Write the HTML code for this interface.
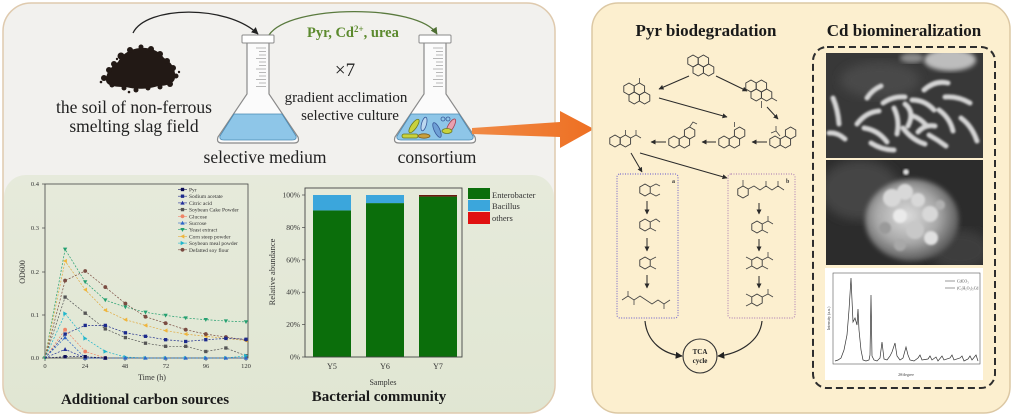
<!DOCTYPE html>
<html><head><meta charset="utf-8"><style>
html,body{margin:0;padding:0;background:#fff;width:1024px;height:416px;overflow:hidden}
svg{display:block}
text{font-family:"Liberation Serif",serif}
</style></head><body>
<svg width="1024" height="416" viewBox="0 0 1024 416" xmlns="http://www.w3.org/2000/svg">
<defs>
<clipPath id="lp"><rect x="3" y="3" width="552" height="410" rx="28"/></clipPath>
<clipPath id="s1"><rect x="826" y="53" width="157" height="105"/></clipPath>
<clipPath id="s2"><rect x="826" y="160" width="157" height="105"/></clipPath>
<filter id="bl"><feGaussianBlur stdDeviation="1.1"/></filter>
<filter id="bl2"><feGaussianBlur stdDeviation="2.5"/></filter>
<filter id="bl3"><feGaussianBlur stdDeviation="5"/></filter>
<marker id="ah" viewBox="0 0 10 10" refX="9" refY="5" markerWidth="5" markerHeight="5" orient="auto" markerUnits="userSpaceOnUse"><path d="M0,0 L10,5 L0,10 z" fill="#2a2a2a"/></marker>
<marker id="ahb" viewBox="0 0 10 10" refX="9" refY="5" markerWidth="7" markerHeight="7" orient="auto" markerUnits="userSpaceOnUse"><path d="M0,0 L10,5 L0,10 z" fill="#222"/></marker>
<marker id="ahg" viewBox="0 0 10 10" refX="9" refY="5" markerWidth="7" markerHeight="7" orient="auto" markerUnits="userSpaceOnUse"><path d="M0,0 L10,5 L0,10 z" fill="#4f6f33"/></marker>
<marker id="mYe" viewBox="-3 -3 6 6" markerWidth="5" markerHeight="5" markerUnits="userSpaceOnUse"><path d="M-2.6,-2 L2.6,-2 L0,2.6z" fill="#24a070"/></marker>
<marker id="mCo" viewBox="-3 -3 6 6" markerWidth="5" markerHeight="5" markerUnits="userSpaceOnUse"><path d="M2.2,-2.6 L2.2,2.6 L-2.6,0z" fill="#f0b63c"/></marker>
<marker id="mDe" viewBox="-3 -3 6 6" markerWidth="5" markerHeight="5" markerUnits="userSpaceOnUse"><circle r="2.3" fill="#7a4c42"/></marker>
<marker id="mSc" viewBox="-3 -3 6 6" markerWidth="5" markerHeight="5" markerUnits="userSpaceOnUse"><rect x="-2" y="-2" width="4" height="4" fill="#555"/></marker>
<marker id="mSm" viewBox="-3 -3 6 6" markerWidth="5" markerHeight="5" markerUnits="userSpaceOnUse"><path d="M-2.2,-2.6 L-2.2,2.6 L2.6,0z" fill="#1fb6cc"/></marker>
<marker id="mNa" viewBox="-3 -3 6 6" markerWidth="5" markerHeight="5" markerUnits="userSpaceOnUse"><rect x="-2" y="-2" width="4" height="4" fill="#1c2a8c"/></marker>
<marker id="mGl" viewBox="-3 -3 6 6" markerWidth="5" markerHeight="5" markerUnits="userSpaceOnUse"><circle r="2.3" fill="#ef8466"/></marker>
<marker id="mCi" viewBox="-3 -3 6 6" markerWidth="5" markerHeight="5" markerUnits="userSpaceOnUse"><path d="M-2.6,2 L2.6,2 L0,-2.6z" fill="#23309a"/></marker>
<marker id="mSu" viewBox="-3 -3 6 6" markerWidth="5" markerHeight="5" markerUnits="userSpaceOnUse"><path d="M-2.6,2 L2.6,2 L0,-2.6z" fill="#2f66c8"/></marker>
<marker id="mPy" viewBox="-3 -3 6 6" markerWidth="5" markerHeight="5" markerUnits="userSpaceOnUse"><rect x="-2" y="-2" width="4" height="4" fill="#0c0c55"/></marker>
<g id="h"><polygon points="0,-6 5.2,-3 5.2,3 0,6 -5.2,3 -5.2,-3" fill="none" stroke="#3a3a3a" stroke-width="0.9"/></g>
<linearGradient id="gg" x1="0" y1="0" x2="0" y2="1"><stop offset="0" stop-color="#e6eadb"/><stop offset="1" stop-color="#e0e6d2"/></linearGradient>
<radialGradient id="blob" cx="0.45" cy="0.45" r="0.55"><stop offset="0" stop-color="#dcdcdc"/><stop offset="0.6" stop-color="#a8a8a8"/><stop offset="1" stop-color="#5a5a5a"/></radialGradient>
<linearGradient id="or" x1="0" y1="0" x2="1" y2="0"><stop offset="0" stop-color="#f08a45"/><stop offset="1" stop-color="#ee6f22"/></linearGradient>
</defs>

<!-- LEFT PANEL -->
<rect x="3" y="3" width="552" height="410" rx="28" fill="#f2f1ee"/>
<rect x="4" y="175" width="550" height="250" rx="22" fill="url(#gg)" clip-path="url(#lp)"/>
<rect x="3" y="3" width="552" height="410" rx="28" fill="none" stroke="#dfcaae" stroke-width="1.5"/>

<!-- soil -->
<g fill="#221915">
<path d="M106,80 C106,72 112,66 118,62 C122,54 130,49 140,48 C152,47 160,52 164,58 C172,62 176,70 175,78 C174,84 166,86 158,86 C150,89 135,90 126,87 C115,87 106,86 106,80 Z"/>
<circle cx="104" cy="78" r="3"/><circle cx="109" cy="70" r="3"/><circle cx="114" cy="64" r="3"/><circle cx="121" cy="56" r="3.5"/><circle cx="130" cy="50" r="3"/><circle cx="141" cy="47" r="2.5"/><circle cx="151" cy="49" r="3"/><circle cx="160" cy="54" r="3"/><circle cx="167" cy="61" r="3"/><circle cx="173" cy="68" r="3"/><circle cx="176" cy="76" r="2.5"/><circle cx="170" cy="84" r="3"/><circle cx="160" cy="87" r="2.5"/><circle cx="148" cy="88" r="2.5"/><circle cx="136" cy="90" r="2.5"/><circle cx="124" cy="88" r="2.5"/><circle cx="112" cy="85" r="2.5"/>
<circle cx="129" cy="92" r="1.3"/><circle cx="101" cy="82" r="1.3"/><circle cx="179" cy="72" r="1.2"/><circle cx="117" cy="59" r="1.2"/>
</g>
<path d="M133,33 C146,6 226,4 258,34" fill="none" stroke="#222" stroke-width="1.3" marker-end="url(#ahb)"/>
<path d="M269,35 C290,4 418,4 437,34" fill="none" stroke="#5a7a3e" stroke-width="1.3" marker-end="url(#ahg)"/>

<!-- flask 1 -->
<path d="M247,43 L247,94 L218,137 Q216,143 222,143 L294,143 Q300,143 298,137 L269,94 L269,43" fill="#fbfbfb" stroke="#8a8a8a" stroke-width="1.2"/>
<path d="M234,114 L282,114 L296,136 Q297,140 292,140 L224,140 Q219,140 220,136 Z" fill="#8ec6e8" stroke="#4b8ab4" stroke-width="0.8"/>
<rect x="242" y="35" width="32" height="8" rx="1" fill="#fff" stroke="#8a8a8a" stroke-width="1"/>
<g stroke="#a8a8a8" stroke-width="0.8">
<line x1="256" y1="48" x2="266" y2="48"/><line x1="259" y1="51.5" x2="266" y2="51.5"/><line x1="259" y1="55" x2="266" y2="55"/><line x1="256" y1="58.5" x2="266" y2="58.5"/><line x1="259" y1="62" x2="266" y2="62"/><line x1="259" y1="65.5" x2="266" y2="65.5"/><line x1="256" y1="69" x2="266" y2="69"/><line x1="259" y1="72.5" x2="266" y2="72.5"/><line x1="259" y1="76" x2="266" y2="76"/><line x1="256" y1="79.5" x2="266" y2="79.5"/><line x1="259" y1="83" x2="266" y2="83"/><line x1="256" y1="86.5" x2="266" y2="86.5"/>
</g>

<!-- flask 2 -->
<path d="M424,43 L424,94 L395,137 Q393,143 399,143 L471,143 Q477,143 475,137 L446,94 L446,43" fill="#fbfbfb" stroke="#8a8a8a" stroke-width="1.2"/>
<path d="M411,114 L459,114 L473,136 Q474,140 469,140 L401,140 Q396,140 397,136 Z" fill="#8ec6e8" stroke="#4b8ab4" stroke-width="0.8"/>
<rect x="419" y="35" width="32" height="8" rx="1" fill="#fff" stroke="#8a8a8a" stroke-width="1"/>
<g stroke="#a8a8a8" stroke-width="0.8">
<line x1="433" y1="48" x2="443" y2="48"/><line x1="436" y1="51.5" x2="443" y2="51.5"/><line x1="436" y1="55" x2="443" y2="55"/><line x1="433" y1="58.5" x2="443" y2="58.5"/><line x1="436" y1="62" x2="443" y2="62"/><line x1="436" y1="65.5" x2="443" y2="65.5"/><line x1="433" y1="69" x2="443" y2="69"/><line x1="436" y1="72.5" x2="443" y2="72.5"/><line x1="436" y1="76" x2="443" y2="76"/><line x1="433" y1="79.5" x2="443" y2="79.5"/><line x1="436" y1="83" x2="443" y2="83"/><line x1="433" y1="86.5" x2="443" y2="86.5"/>
</g>
<g stroke-width="0.8">
<ellipse cx="414" cy="126" rx="2.8" ry="8" transform="rotate(35 414 126)" fill="#c9d23c" stroke="#6a7a20"/>
<ellipse cx="424" cy="124" rx="2.5" ry="7" transform="rotate(15 424 124)" fill="#bcd8f0" stroke="#3a5a9a"/>
<ellipse cx="437" cy="130" rx="2.8" ry="8" transform="rotate(-25 437 130)" fill="#6ea0d6" stroke="#3a5a9a"/>
<ellipse cx="451" cy="126" rx="2.8" ry="8" transform="rotate(30 451 126)" fill="#e9a0b0" stroke="#a04050"/>
<ellipse cx="447" cy="131" rx="5" ry="2.5" fill="#c9d23c" stroke="#6a7a20"/>
<circle cx="443" cy="119" r="2" fill="none" stroke="#3a5a9a"/><circle cx="448" cy="119" r="2" fill="none" stroke="#3a5a9a"/>
<rect x="402" y="134" width="16" height="4" rx="2" fill="#c9d23c" stroke="#6a7a20"/>
<ellipse cx="424" cy="136" rx="6" ry="2.2" fill="#c9a03c" stroke="#806020"/>
</g>

<!-- orange arrow -->
<polygon points="472,128 560,122 560,111 594,129 560,148 560,137 472,134" fill="url(#or)"/>

<!-- top texts -->
<g fill="#222" font-size="17.5" text-anchor="middle">
<text x="134" y="113">the soil of non-ferrous</text>
<text x="134" y="132">smelting slag field</text>
<text x="265" y="163">selective medium</text>
<text x="437" y="163">consortium</text>
<text x="345" y="76" font-size="19">×7</text>
<text x="346" y="102" font-size="15">gradient acclimation</text>
<text x="350" y="120" font-size="15">selective culture</text>
</g>
<text x="307" y="37" font-size="14.5" font-weight="bold" fill="#5c8a2e">Pyr, Cd<tspan font-size="9" dy="-5">2+</tspan><tspan dy="5">, urea</tspan></text>

<!-- LINE CHART -->
<rect x="45" y="184" width="203" height="174" fill="none" stroke="#444" stroke-width="0.8"/>
<g stroke="#444" stroke-width="0.7">
<line x1="42" y1="184" x2="45" y2="184"/><line x1="42" y1="228" x2="45" y2="228"/><line x1="42" y1="272" x2="45" y2="272"/><line x1="42" y1="315" x2="45" y2="315"/><line x1="42" y1="358" x2="45" y2="358"/>
<line x1="45" y1="358" x2="45" y2="361"/><line x1="85" y1="358" x2="85" y2="361"/><line x1="125" y1="358" x2="125" y2="361"/><line x1="166" y1="358" x2="166" y2="361"/><line x1="206" y1="358" x2="206" y2="361"/><line x1="246" y1="358" x2="246" y2="361"/>
</g>
<g font-size="6.5" fill="#333" text-anchor="end">
<text x="39" y="186">0.4</text><text x="39" y="230">0.3</text><text x="39" y="274">0.2</text><text x="39" y="317">0.1</text><text x="39" y="360">0.0</text>
</g>
<g font-size="6.5" fill="#333" text-anchor="middle">
<text x="45" y="368">0</text><text x="85" y="368">24</text><text x="125" y="368">48</text><text x="166" y="368">72</text><text x="206" y="368">96</text><text x="246" y="368">120</text>
<text x="152" y="380" font-size="8">Time (h)</text>
<text x="0" y="0" font-size="8" transform="translate(25 272) rotate(-90)">OD600</text>
</g>
<g fill="none" stroke-width="0.7" stroke-dasharray="2,1.5">
<polyline stroke="#24a070" marker-mid="url(#mYe)" marker-end="url(#mYe)" marker-start="url(#mYe)" points="45,358 65.1,249.3 85.2,281.9 105.3,300.1 125.4,307.1 145.5,312.3 165.6,315.4 185.7,318 205.8,319.7 225.9,321 246,321.9"/>
<polyline stroke="#e0aa40" marker-mid="url(#mCo)" marker-end="url(#mCo)" points="45,358 65.1,261 85.2,289.7 105.3,310.2 125.4,319.7 145.5,325.4 165.6,330.6 185.7,334.1 205.8,336.3 225.9,338.4 246,340.6"/>
<polyline stroke="#7a4c42" marker-mid="url(#mDe)" marker-end="url(#mDe)" points="45,358 65.1,280.6 85.2,271 105.3,287.1 125.4,303.6 145.5,316.7 165.6,323.2 185.7,329.7 205.8,334.1 225.9,337.1 246,339.7"/>
<polyline stroke="#555" marker-mid="url(#mSc)" marker-end="url(#mSc)" points="45,358 65.1,297.1 85.2,313.2 105.3,328.9 125.4,337.6 145.5,343.2 165.6,346.3 185.7,346.3 205.8,351.5 225.9,348 246,355.8"/>
<polyline stroke="#1fb6cc" marker-mid="url(#mSm)" marker-end="url(#mSm)" points="45,358 65.1,313.6 85.2,338.4 105.3,351.5 125.4,357.1 145.5,358 165.6,358 185.7,358 205.8,358 225.9,358 246,355.8"/>
<polyline stroke="#1c2a8c" marker-mid="url(#mNa)" marker-end="url(#mNa)" points="45,358 65.1,334.1 85.2,325.4 105.3,325.4 125.4,332.8 145.5,336.3 165.6,339.7 185.7,341.5 205.8,339.7 225.9,338.4 246,339.3"/>
<polyline stroke="#ef8466" marker-mid="url(#mGl)" marker-end="url(#mGl)" points="45,358 65.1,329.7 85.2,351.5 105.3,358"/>
<polyline stroke="#23309a" marker-mid="url(#mCi)" marker-end="url(#mCi)" points="45,358 65.1,349.3 85.2,358 105.3,358"/>
<polyline stroke="#2f66c8" marker-mid="url(#mSu)" marker-end="url(#mSu)" points="45,358 65.1,337.6 85.2,358 105.3,358 125.4,358 145.5,358 165.6,358 185.7,358 205.8,358 225.9,358 246,358"/>
<polyline stroke="#0c0c55" marker-mid="url(#mPy)" marker-end="url(#mPy)" points="45,358 65.1,356.7 85.2,356.7 105.3,358"/>
</g>
<!-- legend -->
<g font-size="5.5" fill="#333">
<polyline points="178,189.5 182.5,189.5 187,189.5" stroke="#0c0c55" stroke-width="0.6" fill="none" marker-mid="url(#mPy)"/><text x="189" y="191.5">Pyr</text>
<polyline points="178,196.2 182.5,196.2 187,196.2" stroke="#1c2a8c" stroke-width="0.6" fill="none" marker-mid="url(#mNa)"/><text x="189" y="198.2">Sodium acetate</text>
<polyline points="178,202.9 182.5,202.9 187,202.9" stroke="#23309a" stroke-width="0.6" fill="none" marker-mid="url(#mCi)"/><text x="189" y="204.9">Citric acid</text>
<polyline points="178,209.6 182.5,209.6 187,209.6" stroke="#555" stroke-width="0.6" fill="none" marker-mid="url(#mSc)"/><text x="189" y="211.6">Soybean Cake Powder</text>
<polyline points="178,216.3 182.5,216.3 187,216.3" stroke="#ef8466" stroke-width="0.6" fill="none" marker-mid="url(#mGl)"/><text x="189" y="218.3">Glucose</text>
<polyline points="178,223 182.5,223 187,223" stroke="#2f66c8" stroke-width="0.6" fill="none" marker-mid="url(#mSu)"/><text x="189" y="225">Sucrose</text>
<polyline points="178,229.7 182.5,229.7 187,229.7" stroke="#24a070" stroke-width="0.6" fill="none" marker-mid="url(#mYe)"/><text x="189" y="231.7">Yeast extract</text>
<polyline points="178,236.4 182.5,236.4 187,236.4" stroke="#e0aa40" stroke-width="0.6" fill="none" marker-mid="url(#mCo)"/><text x="189" y="238.4">Corn steep powder</text>
<polyline points="178,243.1 182.5,243.1 187,243.1" stroke="#1fb6cc" stroke-width="0.6" fill="none" marker-mid="url(#mSm)"/><text x="189" y="245.1">Soybean meal powder</text>
<polyline points="178,249.8 182.5,249.8 187,249.8" stroke="#7a4c42" stroke-width="0.6" fill="none" marker-mid="url(#mDe)"/><text x="189" y="251.8">Defatted soy flour</text>
</g>
<text x="145" y="404" font-size="15" font-weight="bold" fill="#1a1a1a" text-anchor="middle">Additional carbon sources</text>

<!-- BAR CHART -->
<rect x="313" y="210.4" width="38" height="146.6" fill="#0b6e0b"/>
<rect x="313" y="195" width="38" height="15.4" fill="#3ba6dc"/>
<rect x="366" y="203.1" width="38" height="153.9" fill="#0b6e0b"/>
<rect x="366" y="195" width="38" height="8.1" fill="#3ba6dc"/>
<rect x="419" y="196.6" width="38" height="160.4" fill="#0b6e0b"/>
<rect x="419" y="195" width="38" height="1.6" fill="#6a1a10"/>
<rect x="305" y="188" width="157" height="169" fill="none" stroke="#444" stroke-width="0.9"/>
<g stroke="#444" stroke-width="0.7">
<line x1="302" y1="195" x2="305" y2="195"/><line x1="302" y1="227.4" x2="305" y2="227.4"/><line x1="302" y1="259.8" x2="305" y2="259.8"/><line x1="302" y1="292.2" x2="305" y2="292.2"/><line x1="302" y1="324.6" x2="305" y2="324.6"/><line x1="302" y1="357" x2="305" y2="357"/>
</g>
<g font-size="7.5" fill="#333" text-anchor="end">
<text x="300" y="197.5">100%</text><text x="300" y="230">80%</text><text x="300" y="262.3">60%</text><text x="300" y="294.7">40%</text><text x="300" y="327">20%</text><text x="300" y="359.5">0%</text>
</g>
<g font-size="8" fill="#333" text-anchor="middle">
<text x="332" y="369">Y5</text><text x="385" y="369">Y6</text><text x="438" y="369">Y7</text>
<text x="383" y="385">Samples</text>
<text x="0" y="0" font-size="8.5" transform="translate(275 272) rotate(-90)">Relative abundance</text>
</g>
<rect x="468" y="188" width="22" height="11" fill="#0b6e0b"/>
<rect x="468" y="200" width="22" height="11" fill="#3ba6dc"/>
<rect x="468" y="212" width="22" height="12" fill="#e01010"/>
<g font-size="8.5" fill="#333">
<text x="492" y="198">Enterobacter</text><text x="492" y="209">Bacillus</text><text x="492" y="221">others</text>
</g>
<text x="379" y="401" font-size="15" font-weight="bold" fill="#1a1a1a" text-anchor="middle">Bacterial community</text>

<!-- RIGHT PANEL -->
<rect x="592" y="3" width="418" height="410" rx="26" fill="#fcefcf" stroke="#dcc8a4" stroke-width="1.5"/>
<text x="706" y="36" font-size="17" font-weight="bold" fill="#1a1a1a" text-anchor="middle">Pyr biodegradation</text>
<text x="904" y="36" font-size="17" font-weight="bold" fill="#1a1a1a" text-anchor="middle">Cd biomineralization</text>

<!-- molecules -->
<g>
<use href="#h" x="693" y="61"/><use href="#h" x="703.4" y="61"/><use href="#h" x="698.2" y="70"/><use href="#h" x="708.6" y="70"/>
<use href="#h" x="629" y="89"/><use href="#h" x="639.4" y="89"/><use href="#h" x="634.2" y="98"/><use href="#h" x="644.6" y="98"/>
<use href="#h" x="751" y="86"/><use href="#h" x="761.4" y="86"/><use href="#h" x="756.2" y="95"/><use href="#h" x="766.6" y="95"/>
<use href="#h" x="615" y="141"/><use href="#h" x="625.4" y="141"/>
<use href="#h" x="674" y="142"/><use href="#h" x="684.4" y="142"/><use href="#h" x="689.6" y="133"/>
<use href="#h" x="724" y="142"/><use href="#h" x="734.4" y="142"/><use href="#h" x="739.6" y="133"/>
<use href="#h" x="775" y="142"/><use href="#h" x="785.4" y="142"/><use href="#h" x="790.6" y="133"/>
<use href="#h" x="645" y="190"/><use href="#h" x="645" y="225"/><use href="#h" x="645" y="263"/>
<use href="#h" x="743" y="192"/><use href="#h" x="757" y="227"/><use href="#h" x="757" y="263"/><use href="#h" x="757" y="300"/>
</g>
<g stroke="#444" stroke-width="0.8" fill="none">
<line x1="639.4" y1="83" x2="639.4" y2="78"/>
<line x1="771.8" y1="98" x2="777" y2="101"/><line x1="761.4" y1="101" x2="761.4" y2="108"/>
<polyline points="630.6,138 636,135 641,138"/><line x1="636" y1="135" x2="636" y2="130"/><line x1="625.4" y1="135" x2="625.4" y2="130"/>
<polyline points="689.6,127 693,122 697,124"/>
<line x1="734.4" y1="127" x2="734.4" y2="122"/>
<polyline points="780,136 776,131 776,126"/><line x1="776" y1="131" x2="771" y2="133"/>
<polyline points="650.2,187 656,184 660,186"/><polyline points="650.2,193 656,196 660,194"/>
<polyline points="650.2,222 656,219 660,222"/><line x1="650.2" y1="228" x2="656" y2="231"/>
<line x1="650.2" y1="260" x2="656" y2="257"/><line x1="650.2" y1="266" x2="656" y2="269"/>
<polyline points="622,300 628,296 634,300 640,296 646,300 652,304 658,300 664,304 670,300"/>
<line x1="628" y1="296" x2="628" y2="291"/><line x1="664" y1="304" x2="664" y2="309"/><line x1="634" y1="300" x2="634" y2="305"/>
<polyline points="748.2,189 754,186 760,190 766,186 772,190 778,186 784,190"/><line x1="766" y1="186" x2="766" y2="181"/><line x1="778" y1="186" x2="778" y2="181"/><line x1="743" y1="186" x2="743" y2="180"/>
<polyline points="762.2,224 768,221 773,224"/><line x1="768" y1="221" x2="768" y2="216"/><line x1="762.2" y1="230" x2="768" y2="233"/>
<polyline points="762.2,260 768,257 773,260"/><line x1="768" y1="257" x2="768" y2="252"/><line x1="762.2" y1="266" x2="768" y2="269"/><line x1="751.8" y1="260" x2="746" y2="257"/><line x1="751.8" y1="266" x2="746" y2="269"/>
<polyline points="762.2,297 768,294 773,297"/><line x1="768" y1="294" x2="768" y2="289"/><line x1="751.8" y1="297" x2="746" y2="294"/><line x1="751.8" y1="303" x2="746" y2="306"/>
</g>
<g stroke="#2a2a2a" stroke-width="1" marker-end="url(#ah)">
<line x1="689" y1="76" x2="659" y2="89"/>
<line x1="716" y1="76" x2="747" y2="91"/>
<line x1="659" y1="98" x2="727" y2="117"/>
<line x1="767" y1="107" x2="778" y2="119"/>
<line x1="767" y1="142" x2="752" y2="142"/>
<line x1="716" y1="142" x2="702" y2="142"/>
<line x1="666" y1="142" x2="651" y2="142"/>
<line x1="631" y1="153" x2="642" y2="172"/>
<line x1="640" y1="153" x2="727" y2="178"/>
<line x1="647" y1="201" x2="647" y2="214"/>
<line x1="647" y1="238" x2="647" y2="251"/>
<line x1="647" y1="275" x2="647" y2="288"/>
<line x1="759" y1="203" x2="759" y2="214"/>
<line x1="759" y1="239" x2="759" y2="251"/>
<line x1="759" y1="276" x2="759" y2="288"/>
</g>
<rect x="617" y="174" width="61" height="144" rx="3" fill="none" stroke="#8074cc" stroke-width="1.2" stroke-dasharray="1,1.5"/>
<rect x="728" y="174" width="67" height="144" rx="3" fill="none" stroke="#b68ab8" stroke-width="1.2" stroke-dasharray="1,1.5"/>
<text x="672" y="183" font-size="6" font-weight="bold" fill="#333">a</text>
<text x="786" y="183" font-size="6" font-weight="bold" fill="#333">b</text>
<path d="M645,321 C647,342 663,354 682,356" fill="none" stroke="#2a2a2a" stroke-width="1.2" marker-end="url(#ahb)"/>
<path d="M762,321 C760,342 738,354 718,356" fill="none" stroke="#2a2a2a" stroke-width="1.2" marker-end="url(#ahb)"/>
<circle cx="700" cy="356" r="17" fill="none" stroke="#333" stroke-width="1.1"/>
<text x="700" y="354" font-size="7" font-weight="bold" fill="#222" text-anchor="middle">TCA</text>
<text x="700" y="363" font-size="7" font-weight="bold" fill="#222" text-anchor="middle">cycle</text>

<!-- Cd side -->
<rect x="813" y="47" width="182" height="341" rx="14" fill="none" stroke="#2e2e2e" stroke-width="2" stroke-dasharray="7,4"/>
<rect x="826" y="53" width="157" height="105" fill="#383838"/>
<g clip-path="url(#s1)">
<ellipse cx="880" cy="80" rx="40" ry="18" fill="#4a4a4a" filter="url(#bl3)"/>
<ellipse cx="950" cy="60" rx="26" ry="11" fill="#bdbdbd" filter="url(#bl2)"/>
<ellipse cx="912" cy="58" rx="12" ry="5" fill="#8a8a8a" filter="url(#bl2)"/>
<g filter="url(#bl)" stroke="#d4d4d4" stroke-width="5" stroke-linecap="round" fill="none">
<path d="M833,98 Q838,110 839,124"/><path d="M829,133 Q837,132 845,139"/>
<path d="M857,124 Q866,112 879,111"/><path d="M864,128 Q878,130 887,142"/>
<path d="M883,103 Q893,96 905,97"/><path d="M894,108 Q900,120 897,134"/>
<path d="M903,128 Q912,140 925,144"/><path d="M912,100 Q925,100 934,110"/>
<path d="M924,90 Q935,80 948,83"/><path d="M939,110 Q950,118 953,131"/>
<path d="M945,97 Q958,96 970,103"/><path d="M961,118 Q972,126 977,141"/>
<path d="M871,143 Q882,150 894,150"/><path d="M913,116 Q920,118 927,126"/>
<path d="M881,86 Q872,90 867,98"/><path d="M929,135 Q938,140 946,146"/>
<path d="M908,126 Q915,112 905,104"/><path d="M918,132 Q925,124 935,126"/>
</g>
</g>
<rect x="826" y="160" width="157" height="105" fill="#2c2c2c"/>
<g clip-path="url(#s2)">
<ellipse cx="860" cy="190" rx="40" ry="30" fill="#454545" filter="url(#bl3)"/>
<ellipse cx="960" cy="250" rx="30" ry="20" fill="#3c3c3c" filter="url(#bl3)"/>
<ellipse cx="912" cy="220" rx="47" ry="41" fill="url(#blob)" filter="url(#bl2)"/>
<g filter="url(#bl)" fill="#d8d8d8">
<circle cx="892" cy="198" r="9"/><circle cx="905" cy="192" r="8"/><circle cx="918" cy="200" r="7"/><circle cx="930" cy="214" r="8"/>
<circle cx="900" cy="216" r="7" fill="#eaeaea"/><circle cx="915" cy="230" r="9" fill="#c8c8c8"/><circle cx="931" cy="238" r="7" fill="#e0e0e0"/>
<circle cx="885" cy="228" r="6" fill="#9a9a9a"/><circle cx="940" cy="205" r="5" fill="#b0b0b0"/><circle cx="900" cy="245" r="6" fill="#a8a8a8"/>
</g>
<circle cx="906" cy="172" r="3" fill="#ddd" filter="url(#bl)"/>
</g>
<rect x="825" y="268" width="158" height="112" fill="#fff"/>
<rect x="833" y="273" width="147" height="91" fill="none" stroke="#555" stroke-width="0.6"/>
<polyline fill="none" stroke="#333" stroke-width="0.7" points="835,361 838,360 841,358 844,350 847,335 849,310 851,278 852,300 853,322 855,318 857,325 858,309 859,330 861,350 863,360 866,361 869,360 870,355 871,295 872,356 874,360 877,361 880,358 882,342 884,359 887,360 890,356 892,352 895,343 897,356 900,360 903,358 906,347 908,355 910,360 914,361 918,358 920,355 922,360 928,359 930,356 932,360 936,357 938,361 942,356 944,360 950,358 952,355 954,360 960,358 962,356 964,361 968,359 970,356 972,360 976,355 978,361"/>
<g stroke="#555" stroke-width="0.6"><line x1="945" y1="281" x2="955" y2="281"/><line x1="945" y1="288" x2="955" y2="288"/></g>
<g font-size="4" fill="#444">
<text x="957" y="282.5">CdCO₃</text><text x="957" y="289.5">(C₃H₅O₃)₂Cd</text>
<text x="906" y="376" text-anchor="middle">2θ/degree</text>
<text x="0" y="0" transform="translate(830 330) rotate(-90)">Intensity (a.u.)</text>
</g>
</svg>
</body></html>
